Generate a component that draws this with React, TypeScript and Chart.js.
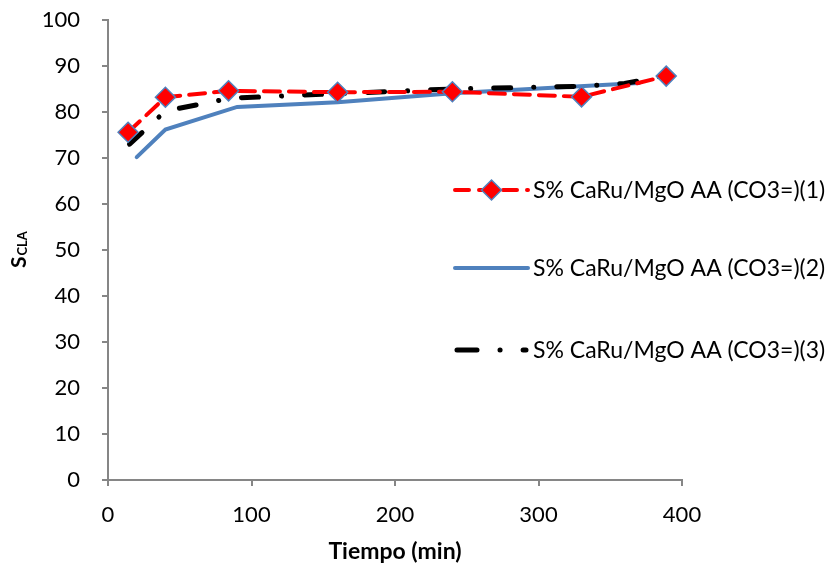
import React, { useEffect, useRef } from "react";
import { Chart, registerables } from "chart.js";

Chart.register(...registerables);

const seriesLabels = [
  "S% CaRu/MgO AA (CO3=)(1)",
  "S% CaRu/MgO AA (CO3=)(2)",
  "S% CaRu/MgO AA (CO3=)(3)",
];

const time1 = [14, 40, 84, 160, 240, 330, 389];
const sel1 = [75.6, 83.2, 84.6, 84.3, 84.4, 83.3, 87.8];

const time2 = [20, 40, 90, 160, 240, 370];
const sel2 = [70.2, 76.2, 81.1, 82.1, 84.1, 86.3];

const time3 = [15, 40, 85, 160, 240, 330, 360, 390];
const sel3 = [73, 80.2, 83, 84, 85, 85.6, 86.2, 88];

const xTicks = [0, 100, 200, 300, 400];
const yTicks = [0, 10, 20, 30, 40, 50, 60, 70, 80, 90, 100];

const xTitle = "Tiempo (min)";
const yTitleMain = "S";
const yTitleSub = "CLA";

const FONT = "Lato, 'Open Sans', sans-serif";

function toPts(xs: number[], ys: number[]) {
  return xs.map((x, i) => ({ x, y: ys[i] }));
}

const legendPlugin = {
  id: "customLegend",
  afterDraw(chart: any) {
    const ctx = chart.ctx;
    const rows = [190, 268, 350];
    const x0 = 455;
    const x1 = 528;
    chart.data.datasets.forEach((ds: any, i: number) => {
      const y = rows[i];
      ctx.save();
      ctx.strokeStyle = ds.borderColor;
      ctx.lineWidth = ds.borderWidth;
      ctx.lineCap = ds.borderCapStyle || "butt";
      ctx.setLineDash(ds.legendDash || ds.borderDash || []);
      ctx.beginPath();
      ctx.moveTo(x0 + (ds.legendInset || 0), y);
      ctx.lineTo(x1 - (ds.legendInset || 0), y);
      ctx.stroke();
      ctx.setLineDash([]);
      if (ds.pointRadius > 0) {
        const r = ds.pointRadius;
        const cx = (x0 + x1) / 2;
        ctx.beginPath();
        ctx.moveTo(cx, y - r);
        ctx.lineTo(cx + r, y);
        ctx.lineTo(cx, y + r);
        ctx.lineTo(cx - r, y);
        ctx.closePath();
        ctx.fillStyle = ds.pointBackgroundColor;
        ctx.fill();
        ctx.lineWidth = ds.pointBorderWidth;
        ctx.strokeStyle = ds.pointBorderColor;
        ctx.stroke();
      }
      ctx.fillStyle = "#000";
      ctx.font = `23px ${FONT}`;
      ctx.textBaseline = "middle";
      ctx.textAlign = "left";
      ctx.fillText(ds.label, 533, y + 1);
      ctx.restore();
    });
  },
};

const yTitlePlugin = {
  id: "yTitle",
  afterDraw(chart: any) {
    const ctx = chart.ctx;
    ctx.save();
    ctx.translate(26, 268);
    ctx.rotate(-Math.PI / 2);
    ctx.fillStyle = "#000";
    ctx.textBaseline = "alphabetic";
    ctx.textAlign = "left";
    ctx.font = `bold 21px ${FONT}`;
    ctx.fillText(yTitleMain, 0, 0);
    const w = ctx.measureText(yTitleMain).width;
    ctx.font = `bold 13px ${FONT}`;
    ctx.fillText(yTitleSub, w + 1, 1);
    ctx.restore();
  },
};

export default function App() {
  const ref = useRef<HTMLCanvasElement>(null);
  useEffect(() => {
    document.body.style.margin = "0";
    const canvas = ref.current!;
    const chart = new Chart(canvas, {
      type: "line",
      data: {
        datasets: [
          {
            label: seriesLabels[0],
            data: toPts(time1, sel1),
            borderColor: "#FF0000",
            borderWidth: 4,
            borderDash: [16, 9],
            borderCapStyle: "round",
            pointStyle: "rectRot",
            pointRadius: 10,
            pointHoverRadius: 10,
            pointBackgroundColor: "#FF0000",
            pointBorderColor: "#4F81BD",
            pointBorderWidth: 1.5,
            tension: 0,
            order: 0,
            legendDash: [14, 10],
          } as any,
          {
            label: seriesLabels[1],
            data: toPts(time2, sel2),
            borderColor: "#4F81BD",
            borderWidth: 4,
            borderCapStyle: "round",
            pointRadius: 0,
            tension: 0,
            order: 2,
          } as any,
          {
            label: seriesLabels[2],
            data: toPts(time3, sel3),
            borderColor: "#000000",
            borderWidth: 5,
            borderDash: [17, 23, 0.1, 23],
            borderCapStyle: "round",
            pointRadius: 0,
            tension: 0,
            order: 1,
            legendDash: [20, 23, 0.1, 23],
            legendInset: 2,
          } as any,
        ],
      },
      options: {
        animation: false,
        responsive: false,
        devicePixelRatio: 1,
        events: [],
        layout: { padding: { top: 20, right: 156, left: 0, bottom: 0 } },
        plugins: {
          legend: { display: false },
          tooltip: { enabled: false },
          title: { display: false },
        },
        scales: {
          x: {
            type: "linear",
            min: 0,
            max: 400,
            afterBuildTicks: (s: any) => {
              s.ticks = xTicks.map((v) => ({ value: v }));
            },
            afterFit: (s: any) => {
              s.height = 89;
              s.paddingLeft = 0;
              s.paddingRight = 0;
            },
            border: { color: "#868686", width: 2 },
            grid: {
              drawOnChartArea: false,
              drawTicks: true,
              tickLength: 6,
              color: "#868686",
              lineWidth: 2,
            },
            ticks: {
              color: "#000",
              font: { family: FONT, size: 22 },
              padding: 16,
              maxRotation: 0,
            },
            title: {
              display: true,
              text: xTitle,
              color: "#000",
              font: { family: FONT, size: 23, weight: "bold" },
              padding: { top: 0, bottom: 4 },
            },
          },
          y: {
            type: "linear",
            min: 0,
            max: 100,
            afterBuildTicks: (s: any) => {
              s.ticks = yTicks.map((v) => ({ value: v }));
            },
            afterFit: (s: any) => {
              s.width = 108;
              s.paddingTop = 0;
              s.paddingBottom = 0;
            },
            border: { color: "#868686", width: 2 },
            grid: {
              drawOnChartArea: false,
              drawTicks: true,
              tickLength: 6,
              color: "#868686",
              lineWidth: 2,
            },
            ticks: {
              color: "#000",
              font: { family: FONT, size: 22 },
              padding: 22,
            },
          },
        },
      } as any,
      plugins: [legendPlugin, yTitlePlugin],
    });
    return () => chart.destroy();
  }, []);
  return <canvas ref={ref} width={838} height={569} style={{ display: "block" }} />;
}
